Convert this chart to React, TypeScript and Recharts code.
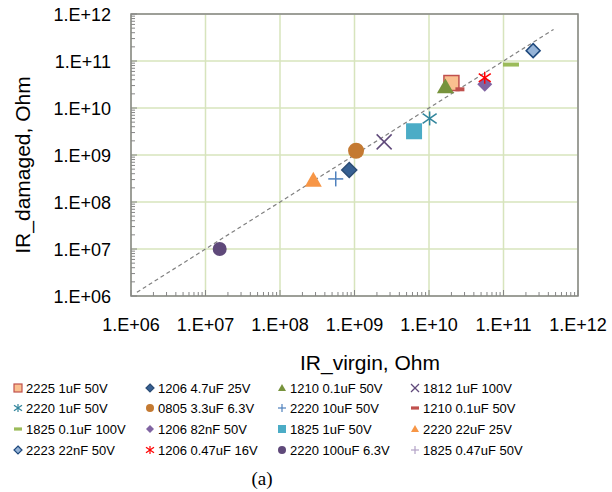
import React from 'react';
import { ScatterChart, Scatter, XAxis, YAxis, CartesianGrid, ReferenceLine, ReferenceArea } from 'recharts';

const seriesNames = [
  '2225 1uF 50V', '1206 4.7uF 25V', '1210 0.1uF 50V', '1812 1uF 100V',
  '2220 1uF 50V', '0805 3.3uF 6.3V', '2220 10uF 50V', '1210 0.1uF 50V',
  '1825 0.1uF 100V', '1206 82nF 50V', '1825 1uF 50V', '2220 22uF 25V',
  '2223 22nF 50V', '1206 0.47uF 16V', '2220 100uF 6.3V', '1825 0.47uF 50V',
];
const irVirgin: (number | null)[] = [2.0e10, 8.5e8, 1.66e10, 2.5e9, 1.02e10, 1.05e9, 5.6e8, 2.6e10, 1.26e11, 5.6e10, 6.3e9, 2.8e8, 2.5e11, 5.6e10, 1.55e7, null];
const irDamaged: (number | null)[] = [3.4e10, 4.8e8, 2.8e10, 1.9e9, 6.0e9, 1.23e9, 3.1e8, 2.5e10, 8.4e10, 3.2e10, 3.2e9, 2.9e8, 1.66e11, 4.4e10, 1.0e7, null];
const majorTicks = [1e6, 1e7, 1e8, 1e9, 1e10, 1e11, 1e12];
const tickLabels = ['1.E+06', '1.E+07', '1.E+08', '1.E+09', '1.E+10', '1.E+11', '1.E+12'];
const minorMultipliers = [1, 2, 3, 4, 5, 6, 7, 8, 9];
const diagonal = [1.2e6, 4.7e11];

const allTicks = majorTicks.flatMap((m, i) => (i < majorTicks.length - 1 ? minorMultipliers.map((k) => m * k) : [m]));

type MS = { shape: string; fill?: string; stroke?: string; size: number; w?: number; h?: number };
const markerStyles: MS[] = [
  { shape: 'square', fill: '#FAC090', stroke: '#C0504D', size: 15 },
  { shape: 'diamond', fill: '#376092', stroke: '#2C4D75', size: 15 },
  { shape: 'triangle', fill: '#77933C', size: 17 },
  { shape: 'x', stroke: '#604A7B', size: 15 },
  { shape: 'asterisk', stroke: '#31859C', size: 14 },
  { shape: 'circle', fill: '#C47A32', size: 16 },
  { shape: 'plus', stroke: '#4F81BD', size: 15 },
  { shape: 'dash', fill: '#C0504D', size: 9, w: 9, h: 4 },
  { shape: 'dash', fill: '#9BBB59', size: 16, w: 16, h: 4 },
  { shape: 'diamond', fill: '#8064A2', size: 15 },
  { shape: 'square', fill: '#4BACC6', size: 16 },
  { shape: 'triangle', fill: '#F79646', size: 17 },
  { shape: 'diamond', fill: '#95B3D7', stroke: '#1F497D', size: 14 },
  { shape: 'asterisk', stroke: '#FF0000', size: 12 },
  { shape: 'circle', fill: '#5F497A', size: 14 },
  { shape: 'plus', stroke: '#B3A2C7', size: 12 },
];

const FONT = 'Liberation Sans, Arial, sans-serif';
const AXIS_GRAY = '#868686';

function Marker({ cx, cy, s, scale = 1 }: { cx: number; cy: number; s: MS; scale?: number }) {
  const r = (s.size * scale) / 2;
  const sw = 1.5 * (scale < 1 ? 0.8 : 1);
  switch (s.shape) {
    case 'square':
      return <rect x={cx - r} y={cy - r} width={2 * r} height={2 * r} fill={s.fill} stroke={s.stroke ?? 'none'} strokeWidth={sw} />;
    case 'diamond':
      return <polygon points={`${cx},${cy - r} ${cx + r},${cy} ${cx},${cy + r} ${cx - r},${cy}`} fill={s.fill} stroke={s.stroke ?? 'none'} strokeWidth={sw} />;
    case 'triangle':
      return <polygon points={`${cx},${cy - r} ${cx + r},${cy + r * 0.75} ${cx - r},${cy + r * 0.75}`} fill={s.fill} />;
    case 'circle':
      return <circle cx={cx} cy={cy} r={r} fill={s.fill} />;
    case 'x':
      return (
        <g stroke={s.stroke} strokeWidth={sw}>
          <line x1={cx - r} y1={cy - r} x2={cx + r} y2={cy + r} />
          <line x1={cx - r} y1={cy + r} x2={cx + r} y2={cy - r} />
        </g>
      );
    case 'plus':
      return (
        <g stroke={s.stroke} strokeWidth={sw}>
          <line x1={cx - r} y1={cy} x2={cx + r} y2={cy} />
          <line x1={cx} y1={cy - r} x2={cx} y2={cy + r} />
        </g>
      );
    case 'asterisk':
      return (
        <g stroke={s.stroke} strokeWidth={sw}>
          <line x1={cx - r} y1={cy - r * 0.7} x2={cx + r} y2={cy + r * 0.7} />
          <line x1={cx - r} y1={cy + r * 0.7} x2={cx + r} y2={cy - r * 0.7} />
          <line x1={cx} y1={cy - r} x2={cx} y2={cy + r} />
        </g>
      );
    case 'dash': {
      const w = (s.w ?? 10) * scale;
      const h = (s.h ?? 4) * (scale < 1 ? 0.8 : 1);
      return <rect x={cx - w / 2} y={cy - h / 2} width={w} height={h} fill={s.fill} />;
    }
    default:
      return null;
  }
}

const XTick = (props: any) => {
  const { x, y, payload } = props;
  const idx = majorTicks.indexOf(payload.value);
  return (
    <g>
      <line x1={x} x2={x} y1={y} y2={y - (idx >= 0 ? 6 : 4)} stroke={AXIS_GRAY} strokeWidth={1} />
      {idx >= 0 && (
        <text x={x} y={y + 29} textAnchor="middle" dominantBaseline="central" fontFamily={FONT} fontSize={18} fill="#000">
          {tickLabels[idx]}
        </text>
      )}
    </g>
  );
};

const YTick = (props: any) => {
  const { x, y, payload } = props;
  const idx = majorTicks.indexOf(payload.value);
  return (
    <g>
      <line x1={x} x2={x + (idx >= 0 ? 6 : 4)} y1={y} y2={y} stroke={AXIS_GRAY} strokeWidth={1} />
      {idx >= 0 && (
        <text x={x - 20} y={y + 1} textAnchor="end" dominantBaseline="central" fontFamily={FONT} fontSize={18} fill="#000">
          {tickLabels[idx]}
        </text>
      )}
    </g>
  );
};

const legendCols = [18, 150, 282, 415];
const legendRows = [388, 408, 429, 450];

export default function App() {
  const series = seriesNames.map((name, i) => ({
    name,
    style: markerStyles[i],
    data: irVirgin[i] != null && irDamaged[i] != null ? [{ x: irVirgin[i] as number, y: irDamaged[i] as number }] : [],
  }));
  return (
    <div style={{ position: 'absolute', left: 0, top: 0, width: 612, height: 492, background: '#fff' }}>
      <ScatterChart width={612} height={492} margin={{ top: 14, right: 34, bottom: 0, left: 0 }}>
        <CartesianGrid stroke="#D7E4BD" strokeWidth={1.5} horizontalValues={majorTicks} verticalValues={majorTicks} />
        <XAxis
          type="number"
          dataKey="x"
          scale="log"
          domain={[1e6, 1e12]}
          allowDataOverflow
          ticks={allTicks}
          interval={0}
          tick={XTick}
          tickLine={false}
          axisLine={false}
          tickSize={0}
          tickMargin={0}
          height={196}
        />
        <YAxis
          type="number"
          dataKey="y"
          scale="log"
          domain={[1e6, 1e12]}
          allowDataOverflow
          ticks={allTicks}
          interval={0}
          tick={YTick}
          tickLine={false}
          axisLine={false}
          tickSize={0}
          tickMargin={0}
          width={131}
        />
        <ReferenceArea x1={1e6} x2={1e12} y1={1e6} y2={1e12} fill="none" stroke={AXIS_GRAY} strokeWidth={1.5} ifOverflow="visible" />
        {series.map((s, i) => (
          <Scatter
            key={i}
            name={s.name}
            data={s.data}
            isAnimationActive={false}
            shape={(p: any) => <Marker cx={p.cx} cy={p.cy} s={s.style} />}
          />
        ))}
        <ReferenceLine
          segment={[{ x: diagonal[0], y: diagonal[0] }, { x: diagonal[1], y: diagonal[1] }]}
          stroke="#808080"
          strokeWidth={1.2}
          strokeDasharray="4 3"
          ifOverflow="visible"
        />
        <text x={370} y={362} textAnchor="middle" dominantBaseline="central" fontFamily={FONT} fontSize={21} fill="#000">
          IR_virgin, Ohm
        </text>
        <text x={22} y={165} textAnchor="middle" dominantBaseline="central" fontFamily={FONT} fontSize={21} fill="#000" transform="rotate(-90 22 165)">
          IR_damaged, Ohm
        </text>
      </ScatterChart>
      <svg width={612} height={492} style={{ position: 'absolute', left: 0, top: 0, pointerEvents: 'none' }}>
        {series.map((s, i) => {
          const cx = legendCols[i % 4];
          const cy = legendRows[Math.floor(i / 4)];
          return (
            <g key={i}>
              <Marker cx={cx} cy={cy} s={s.style} scale={8 / s.style.size} />
              <text x={cx + 8} y={cy} dominantBaseline="central" fontFamily={FONT} fontSize={13} fill="#000">
                {s.name}
              </text>
            </g>
          );
        })}
        <text x={262} y={478} textAnchor="middle" dominantBaseline="central" fontFamily="Liberation Serif, Times New Roman, serif" fontSize={19} fill="#000">
          (a)
        </text>
      </svg>
    </div>
  );
}
